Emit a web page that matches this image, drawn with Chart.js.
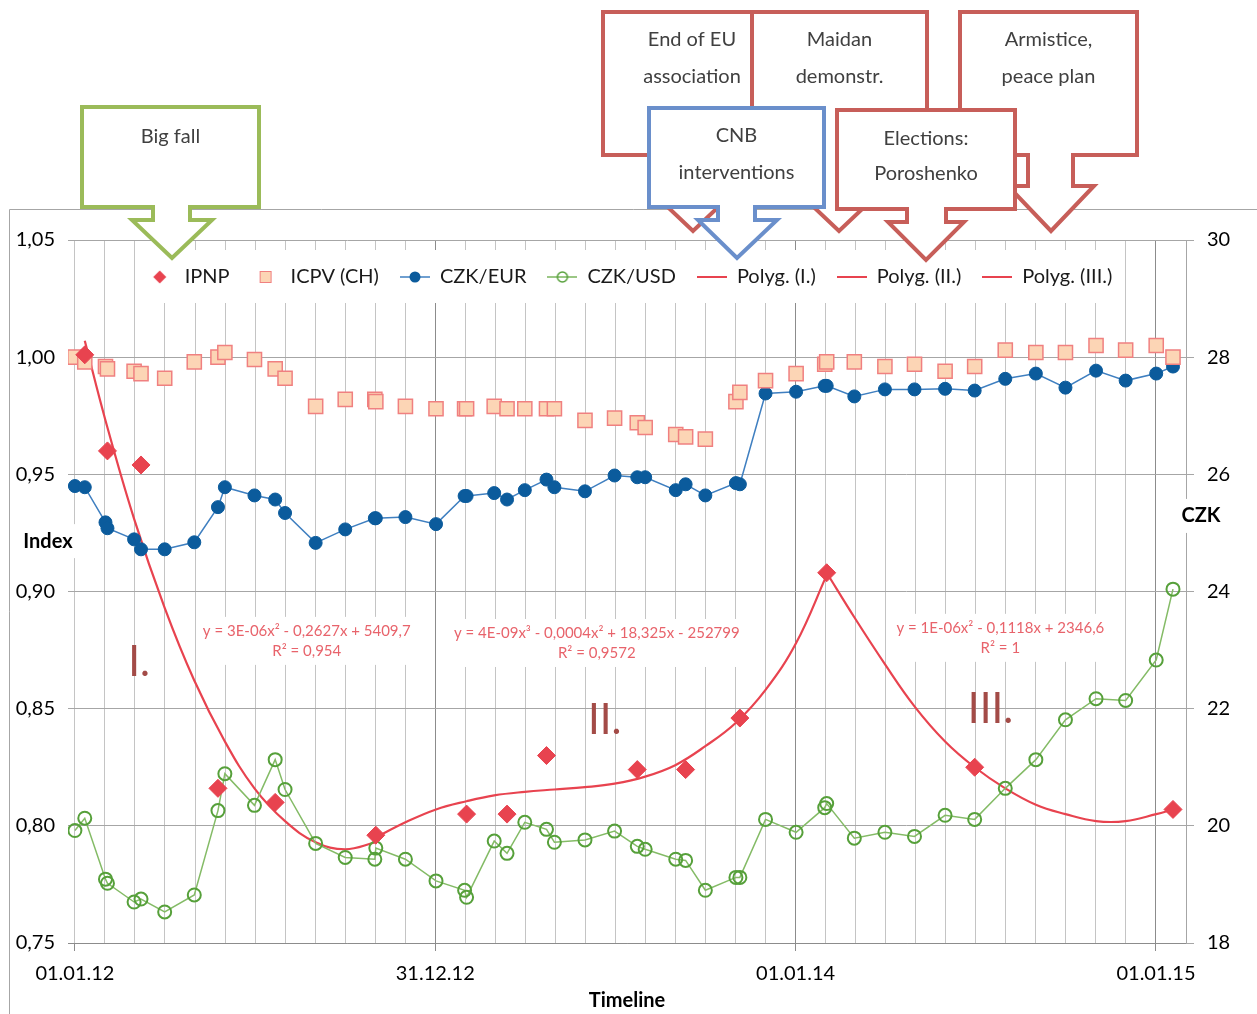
<!DOCTYPE html>
<html>
<head>
<meta charset="utf-8">
<script src="https://cdn.jsdelivr.net/npm/chart.js@4.4.1/dist/chart.umd.min.js"></script>
<style>
    html, body { margin: 0; padding: 0; background: #fff; }
    canvas { display: block; }
</style>
</head>
<body>
<canvas id="grafico" width="1257" height="1014"></canvas>
<script>
// dates shared by the monthly series (CZK/EUR, CZK/USD, ICPV)
const fxDates = [
    '2012-01-01', '2012-01-11', '2012-02-01', '2012-02-03', '2012-03-01', '2012-03-08', '2012-04-01', '2012-05-01',
    '2012-05-25', '2012-06-01', '2012-07-01', '2012-07-22', '2012-08-01', '2012-09-01', '2012-10-01', '2012-10-31',
    '2012-11-01', '2012-12-01', '2013-01-01', '2013-01-30', '2013-02-01', '2013-03-01', '2013-03-14', '2013-04-01',
    '2013-04-23', '2013-05-01', '2013-06-01', '2013-07-01', '2013-07-24', '2013-08-01', '2013-09-01', '2013-09-11',
    '2013-10-01', '2013-11-01', '2013-11-05', '2013-12-01', '2014-01-01', '2014-01-30', '2014-02-01', '2014-03-01',
    '2014-04-01', '2014-05-01', '2014-06-01', '2014-07-01', '2014-08-01', '2014-09-01', '2014-10-01', '2014-11-01',
    '2014-12-01', '2015-01-01', '2015-01-18'
];
const czkEur = [
    25.80, 25.78, 25.18, 25.08, 24.89, 24.72, 24.72, 24.84, 25.44, 25.78, 25.64, 25.57, 25.34, 24.83, 25.06, 25.25,
    25.25, 25.27, 25.15, 25.63, 25.63, 25.68, 25.57, 25.73, 25.91, 25.78, 25.71, 25.98, 25.95, 25.95, 25.73, 25.83,
    25.64, 25.85, 25.83, 27.38, 27.41, 27.51, 27.51, 27.33, 27.45, 27.45, 27.46, 27.43, 27.63, 27.72, 27.48, 27.77,
    27.60, 27.72, 27.84
];
const czkUsd = [
    19.92, 20.13, 19.09, 19.02, 18.70, 18.75, 18.53, 18.82, 20.26, 20.89, 20.35, 21.13, 20.62, 19.70, 19.46, 19.43,
    19.62, 19.43, 19.06, 18.90, 18.78, 19.74, 19.53, 20.06, 19.94, 19.72, 19.76, 19.91, 19.65, 19.60, 19.43, 19.41,
    18.90, 19.12, 19.12, 20.11, 19.89, 20.31, 20.38, 19.79, 19.89, 19.82, 20.18, 20.11, 20.64, 21.13, 21.81, 22.17,
    22.14, 22.83, 24.04
];
const icpv = [
    1.000, 0.998, 0.996, 0.995, 0.994, 0.993, 0.991, 0.998, 1.000, 1.002, 0.999, 0.995, 0.991, 0.979, 0.982, 0.982,
    0.981, 0.979, 0.978, 0.978, 0.978, 0.979, 0.978, 0.978, 0.978, 0.978, 0.973, 0.974, 0.972, 0.970, 0.967, 0.966,
    0.965, 0.981, 0.985, 0.990, 0.993, 0.997, 0.998, 0.998, 0.996, 0.997, 0.994, 0.996, 1.003, 1.002, 1.002, 1.005,
    1.003, 1.005, 1.000
];

const ipnpDates = [
    '2012-01-11', '2012-02-03', '2012-03-08', '2012-05-25', '2012-07-22', '2012-11-01', '2013-02-01', '2013-03-14',
    '2013-04-23', '2013-07-24', '2013-09-11', '2013-11-05', '2014-02-01', '2014-07-01', '2015-01-18'
];
const ipnp = [1.001, 0.960, 0.954, 0.816, 0.810, 0.796, 0.805, 0.805, 0.830, 0.824, 0.824, 0.846, 0.908, 0.825, 0.807];

// trend lines
const poly1Dates = ['2012-01-11', '2012-02-01', '2012-03-01', '2012-04-01', '2012-05-01', '2012-06-01', '2012-07-01',
    '2012-08-01', '2012-09-01', '2012-10-01', '2012-11-01'];
const poly1 = [1.007, 0.973, 0.931, 0.893, 0.862, 0.836, 0.816, 0.802, 0.793, 0.790, 0.793];
const poly2Dates = ['2012-11-01', '2012-12-01', '2013-01-01', '2013-02-01', '2013-03-01', '2013-04-01', '2013-05-01',
    '2013-06-01', '2013-07-01', '2013-08-01', '2013-09-01', '2013-10-01', '2013-11-01', '2013-12-01', '2014-01-01', '2014-02-01'];
const poly2 = [0.795, 0.8015, 0.807, 0.8105, 0.813, 0.8145, 0.8155, 0.8165, 0.818, 0.821, 0.826, 0.834, 0.844, 0.858, 0.878, 0.907];
const poly3Dates = ['2014-02-01', '2014-03-01', '2014-04-01', '2014-05-01', '2014-06-01', '2014-07-01', '2014-08-01',
    '2014-09-01', '2014-10-01', '2014-11-01', '2014-12-01', '2015-01-01', '2015-01-18'];
const poly3 = [0.908, 0.889, 0.869, 0.851, 0.836, 0.825, 0.816, 0.809, 0.805, 0.802, 0.802, 0.805, 0.807];

const xTickLabels = ['01.01.12', '31.12.12', '01.01.14', '01.01.15'];
const legendLabels = ['IPNP', 'ICPV (CH)', 'CZK/EUR', 'CZK/USD', 'Polyg. (I.)', 'Polyg. (II.)', 'Polyg. (III.)'];

const FONT = "Lato, 'Open Sans', sans-serif";
const RED = '#e8434f';
const STEP = 365.25 / 12;
const LEGEND_PAD = 21;
const LEGEND_SIZE = 20;

const dayOf = (s) => (Date.UTC(+s.slice(0, 4), +s.slice(5, 7) - 1, +s.slice(8, 10)) - Date.UTC(2012, 0, 1)) / 86400000;
const pts = (dates, vals) => dates.map((d, i) => ({ x: dayOf(d), y: vals[i] }));

// legend icons
const icon = (draw) => {
    const c = document.createElement('canvas');
    c.width = 30; c.height = 16;
    draw(c.getContext('2d'));
    return c;
};
const redLine = (g) => { g.strokeStyle = RED; g.lineWidth = 2; g.beginPath(); g.moveTo(0, 8); g.lineTo(30, 8); g.stroke(); };
const legendIcons = [
    icon(g => { g.fillStyle = RED; g.beginPath(); g.moveTo(15, 1.5); g.lineTo(21.5, 8); g.lineTo(15, 14.5); g.lineTo(8.5, 8); g.fill(); }),
    icon(g => { g.fillStyle = '#fcd5b5'; g.strokeStyle = '#f08080'; g.fillRect(9, 2, 12, 12); g.strokeRect(9.5, 2.5, 11, 11); }),
    icon(g => { g.strokeStyle = '#3f7fc0'; g.lineWidth = 1.5; g.beginPath(); g.moveTo(0, 8); g.lineTo(30, 8); g.stroke();
        g.fillStyle = '#0b5b9c'; g.beginPath(); g.arc(15, 8, 5.5, 0, Math.PI * 2); g.fill(); }),
    icon(g => { g.strokeStyle = '#7ab55c'; g.lineWidth = 1.5; g.beginPath(); g.moveTo(0, 8); g.lineTo(30, 8); g.stroke();
        g.strokeStyle = '#56a03a'; g.lineWidth = 1.5; g.beginPath(); g.arc(15, 8, 5, 0, Math.PI * 2); g.stroke(); }),
    icon(redLine),
    icon(redLine),
    icon(redLine)
];

// callout shapes above the chart (pixels)
const callouts = [
    { lines: ['End of EU', 'association'], ty: [40, 77], color: '#c75e59', x1: 603, x2: 781, y1: 12, yb: 155, sL: 678, sR: 708, hy: 195, hL: 655, hR: 731, tx: 693, tip: 231 },
    { lines: ['Maidan', 'demonstr.'], ty: [40, 77], color: '#c75e59', x1: 752, x2: 927, y1: 12, yb: 155, sL: 824, sR: 854, hy: 195, hL: 801, hR: 877, tx: 839, tip: 231 },
    { lines: ['Armistice,', 'peace plan'], ty: [40, 77], color: '#c75e59', x1: 960, x2: 1137, y1: 12, yb: 155, sL: 1028, sR: 1073, hy: 186, hL: 1008, hR: 1094, tx: 1051, tip: 231 },
    { lines: ['CNB', 'interventions'], ty: [136, 173], color: '#6a8fcb', x1: 649, x2: 824, y1: 108, yb: 207, sL: 718, sR: 755, hy: 220, hL: 698, hR: 777, tx: 737, tip: 258 },
    { lines: ['Elections:', 'Poroshenko'], ty: [139, 174], color: '#c75e59', x1: 837, x2: 1015, y1: 110, yb: 209, sL: 907, sR: 946, hy: 222, hL: 888, hR: 964, tx: 926, tip: 260 },
    { lines: ['Big fall'], ty: [137], color: '#9bbb59', x1: 82, x2: 259, y1: 107, yb: 207, sL: 153, sR: 190, hy: 220, hL: 132, hR: 212, tx: 172, tip: 258 }
];

// text annotations anchored in data units
const equations = [
    { date: '2012-08-23', y: 0.8832, lines: ['y = 3E-06x² - 0,2627x + 5409,7', 'R² = 0,954'] },
    { date: '2013-06-13', y: 0.8823, lines: ['y = 4E-09x³ - 0,0004x² + 18,325x - 252799', 'R² = 0,9572'] },
    { date: '2014-07-27', y: 0.8845, lines: ['y = 1E-06x² - 0,1118x + 2346,6', 'R² = 1'] }
];
const periods = [
    { date: '2012-03-06', y: 0.8696, text: 'I.' },
    { date: '2013-06-21', y: 0.8449, text: 'II.' },
    { date: '2014-07-17', y: 0.8496, text: 'III.' }
];

const drawCallout = (ctx, c) => {
    ctx.beginPath();
    ctx.moveTo(c.x1, c.y1);
    ctx.lineTo(c.x2, c.y1);
    ctx.lineTo(c.x2, c.yb);
    ctx.lineTo(c.sR, c.yb);
    ctx.lineTo(c.sR, c.hy);
    ctx.lineTo(c.hR, c.hy);
    ctx.lineTo(c.tx, c.tip);
    ctx.lineTo(c.hL, c.hy);
    ctx.lineTo(c.sL, c.hy);
    ctx.lineTo(c.sL, c.yb);
    ctx.lineTo(c.x1, c.yb);
    ctx.closePath();
    ctx.fillStyle = '#fff';
    ctx.fill();
    ctx.lineWidth = 4;
    ctx.lineJoin = 'miter';
    ctx.strokeStyle = c.color;
    ctx.stroke();
    ctx.fillStyle = '#404040';
    ctx.font = '20px ' + FONT;
    ctx.textAlign = 'center';
    ctx.textBaseline = 'middle';
    c.lines.forEach((t, i) => ctx.fillText(t, (c.x1 + c.x2) / 2, c.ty[i]));
};

const extras = {
    id: 'extras',
    afterLayout(chart) {
        // move the legend row down into the plot area
        const lg = chart.legend;
        const top = 277 - LEGEND_PAD - LEGEND_SIZE / 2;
        lg.top = top;
        lg.bottom = top + 70;
    },
    beforeDatasetsDraw(chart) {
        const { ctx, scales: { x, y, y2 } } = chart;
        ctx.save();
        ctx.textAlign = 'center';
        ctx.textBaseline = 'middle';

        ctx.font = '15px ' + FONT;
        equations.forEach(e => {
            const px = x.getPixelForValue(dayOf(e.date));
            const py = y.getPixelForValue(e.y);
            const w = Math.max(...e.lines.map(t => ctx.measureText(t).width));
            ctx.fillStyle = '#fff';
            ctx.fillRect(px - w / 2 - 4, py - 14, w + 8, 48);
            ctx.fillStyle = '#e8636b';
            e.lines.forEach((t, i) => ctx.fillText(t, px, py + i * 20));
        });

        ctx.font = '42px ' + FONT;
        ctx.fillStyle = '#a34b47';
        periods.forEach(p => ctx.fillText(p.text, x.getPixelForValue(dayOf(p.date)), y.getPixelForValue(p.y)));

        ctx.font = 'bold 20px ' + FONT;
        const iy = y.getPixelForValue(0.9215);
        ctx.fillStyle = '#fff';
        ctx.fillRect(17, iy - 17, 60, 34);
        ctx.fillStyle = '#000';
        ctx.fillText('Index', 48, iy);
        const cy = y2.getPixelForValue(25.29);
        ctx.fillStyle = '#fff';
        ctx.fillRect(1180, cy - 17, 44, 34);
        ctx.fillStyle = '#000';
        ctx.fillText('CZK', 1201, cy);
        ctx.restore();
    },
    afterDraw(chart) {
        const { ctx } = chart;
        const lg = chart.legend;
        ctx.save();
        const rowW = lg.lineWidths[0];
        const x0 = (lg.left + LEGEND_PAD + lg.right - rowW) / 2;
        ctx.fillStyle = '#fff';
        ctx.fillRect(x0 - 8, 250, rowW - LEGEND_PAD + 16, 53);
        ctx.restore();
        lg.draw();

        ctx.save();
        ctx.strokeStyle = '#a6a6a6';
        ctx.lineWidth = 1;
        ctx.beginPath();
        ctx.moveTo(9.5, 1014);
        ctx.lineTo(9.5, 209.5);
        ctx.lineTo(1257, 209.5);
        ctx.stroke();
        callouts.forEach(c => drawCallout(ctx, c));
        ctx.restore();
    }
};

const ctx = document.getElementById('grafico').getContext('2d');
const grafico = new Chart(ctx, {
    type: 'line',
    data: {
        datasets: [{
            label: legendLabels[0],
            data: pts(ipnpDates, ipnp),
            yAxisID: 'y',
            showLine: false,
            pointStyle: 'rectRot',
            pointRadius: 9,
            pointBackgroundColor: RED,
            pointBorderColor: RED,
            pointBorderWidth: 1
        }, {
            label: legendLabels[1],
            data: pts(fxDates, icpv),
            yAxisID: 'y',
            showLine: false,
            pointStyle: 'rect',
            pointRadius: 10,
            pointBackgroundColor: '#fcd5b5',
            pointBorderColor: '#f08080',
            pointBorderWidth: 1.5
        }, {
            label: legendLabels[2],
            data: pts(fxDates, czkEur),
            yAxisID: 'y2',
            borderColor: '#3f7fc0',
            borderWidth: 1.5,
            pointRadius: 6.5,
            pointBackgroundColor: '#0b5b9c',
            pointBorderColor: '#0b5b9c',
            pointBorderWidth: 1
        }, {
            label: legendLabels[3],
            data: pts(fxDates, czkUsd),
            yAxisID: 'y2',
            borderColor: '#84bb66',
            borderWidth: 1.5,
            pointRadius: 6.5,
            pointBackgroundColor: 'rgba(0,0,0,0)',
            pointBorderColor: '#56a03a',
            pointBorderWidth: 2
        }, {
            label: legendLabels[4],
            data: pts(poly1Dates, poly1),
            yAxisID: 'y',
            borderColor: RED,
            borderWidth: 2.2,
            pointRadius: 0,
            tension: 0.4
        }, {
            label: legendLabels[5],
            data: pts(poly2Dates, poly2),
            yAxisID: 'y',
            borderColor: RED,
            borderWidth: 2.2,
            pointRadius: 0,
            tension: 0.4
        }, {
            label: legendLabels[6],
            data: pts(poly3Dates, poly3),
            yAxisID: 'y',
            borderColor: RED,
            borderWidth: 2.2,
            pointRadius: 0,
            tension: 0.4
        }]
    },
    plugins: [extras],
    options: {
        responsive: false,
        animation: false,
        events: [],
        layout: {
            // the legend box takes pad + font + 8 px above the plot area
            padding: { top: 238 - (LEGEND_PAD + LEGEND_SIZE + 8), left: 0, right: 0, bottom: 0 }
        },
        scales: {
            x: {
                type: 'linear',
                min: -7,
                max: 37 * STEP,
                afterBuildTicks: (scale) => {
                    const ticks = [];
                    for (let k = 0; k <= 37; k++) ticks.push({ value: k * STEP });
                    scale.ticks = ticks;
                },
                afterFit: (scale) => { scale.height = 71; },
                ticks: {
                    autoSkip: false,
                    maxRotation: 0,
                    padding: 11,
                    color: '#000',
                    font: { family: FONT, size: 20 },
                    callback: (value, index) => (index % 12 === 0 ? xTickLabels[index / 12] : '')
                },
                grid: {
                    color: (c) => (c.index % 12 === 0 && c.index > 0 ? '#8c8c8c' : '#c4c4c4'),
                    tickColor: (c) => (c.index % 12 === 0 ? '#8c8c8c' : 'rgba(0,0,0,0)'),
                    tickLength: 8
                },
                border: { color: '#8c8c8c' },
                title: {
                    display: true,
                    text: 'Timeline',
                    color: '#000',
                    font: { family: FONT, size: 20, weight: 'bold' },
                    padding: { top: 0, bottom: 1 }
                }
            },
            y: {
                position: 'left',
                min: 0.75,
                max: 1.05,
                afterFit: (scale) => { scale.width = 68; },
                ticks: {
                    stepSize: 0.05,
                    padding: 13,
                    color: '#000',
                    font: { family: FONT, size: 20 },
                    callback: (value) => value.toFixed(2).replace('.', ',')
                },
                grid: { color: '#a6a6a6', drawTicks: false },
                border: { display: false }
            },
            y2: {
                position: 'right',
                min: 18,
                max: 30,
                afterFit: (scale) => { scale.width = 71; },
                ticks: {
                    stepSize: 2,
                    padding: 13,
                    color: '#000',
                    font: { family: FONT, size: 20 }
                },
                grid: { drawOnChartArea: false, color: '#a6a6a6', tickLength: 8 },
                border: { display: true, color: '#a6a6a6' }
            }
        },
        plugins: {
            tooltip: { enabled: false },
            legend: {
                position: 'top',
                labels: {
                    usePointStyle: true,
                    pointStyleWidth: 30,
                    padding: LEGEND_PAD,
                    color: '#1a1a1a',
                    font: { family: FONT, size: LEGEND_SIZE },
                    generateLabels: (chart) => Chart.defaults.plugins.legend.labels.generateLabels(chart)
                        .map((item, i) => Object.assign(item, { pointStyle: legendIcons[i] }))
                }
            }
        }
    }
});
</script>
</body>
</html>
